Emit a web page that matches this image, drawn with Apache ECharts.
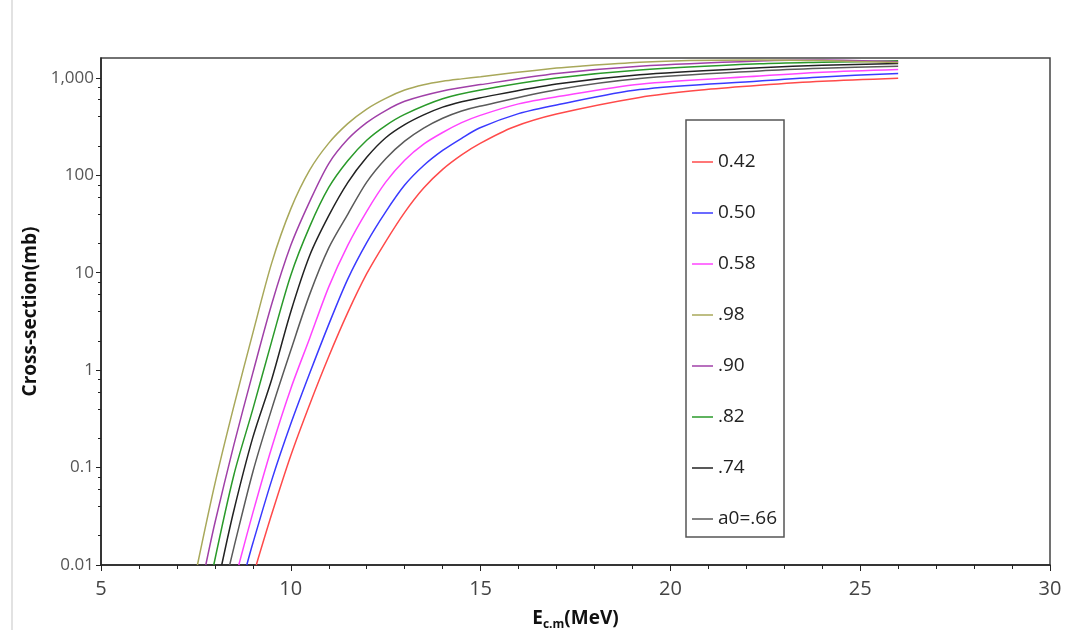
<!DOCTYPE html>
<html>
<head>
<meta charset="utf-8">
<script src="https://cdn.jsdelivr.net/npm/echarts@6/dist/echarts.min.js"></script>
<style>html,body{margin:0;padding:0;background:#fff}#c{width:1073px;height:630px}</style>
</head>
<body>
<div id="c"></div>
<script>
// Series names (legend order)
const seriesNames = ['0.42', '0.50', '0.58', '.98', '.90', '.82', '.74', 'a0=.66'];
const seriesColors = ['#ff4a4a', '#3a3aff', '#ff44ff', '#a8a85a', '#a040a8', '#2a9a2a', '#222222', '#5a5a5a'];

// [E (MeV), cross-section (mb)]
const s042 = [[9.09,0.01],[9.5,0.0335],[10,0.133],[10.5,0.447],[11,1.38],[11.5,3.89],[12,9.77],[12.5,20.9],[13,41.7],[13.5,74.1],[14,115],[14.5,162],[15,214],[15.84,310],[17,425],[19.19,630],[20.95,759],[22.35,840],[24,923],[26,991]];
const s050 = [[8.84,0.01],[9,0.0167],[9.5,0.0748],[10,0.281],[10.5,0.933],[11,2.95],[11.5,8.61],[12,20.4],[12.5,42.2],[13,79.4],[13.5,126],[14,180],[14.5,240],[14.97,306],[16,430],[17,528],[19.19,760],[22.35,930],[24,1024],[26,1107]];
const s058 = [[8.63,0.01],[9,0.0343],[9.5,0.162],[10,0.646],[10.5,2.14],[11,7.16],[11.5,19.1],[12,42.7],[12.5,85.1],[13,143],[13.5,209],[14,275],[14.5,347],[14.97,410],[16,541],[17,639],[19.19,860],[22.35,1045],[24,1141],[26,1217]];
const s098 = [[7.54,0.01],[8,0.068],[8.5,0.427],[9,2.4],[9.5,12.7],[10,45.2],[10.5,113.5],[11,214],[11.5,339],[12,479],[12.5,617],[13,750],[13.5,851],[14,923],[14.5,977],[15,1028],[15.85,1127],[17,1260],[17.62,1318],[19.19,1445],[20.5,1510],[22.35,1530],[24,1505],[26,1436]];
const s090 = [[7.76,0.01],[8,0.027],[8.5,0.171],[9,0.938],[9.5,4.81],[10,19.1],[10.5,54],[11,132],[11.5,234],[12,347],[12.5,462],[13,575],[14,733],[15,853],[17,1107],[19.19,1318],[22.35,1490],[24,1525],[26,1465]];
const s082 = [[7.97,0.01],[8.5,0.084],[9,0.398],[9.5,2.0],[10,9.44],[10.5,29.9],[11,75],[11.5,141],[12,229],[12.5,324],[13,422],[14,610],[15,750],[17,995],[19.19,1205],[22.35,1393],[24,1446],[26,1496]];
const s074 = [[8.18,0.01],[8.5,0.0363],[9,0.204],[9.5,0.813],[10,3.98],[10.5,15.1],[11,38.5],[11.5,84.1],[12,153],[12.5,243],[13,331],[13.5,417],[14,501],[14.5,569],[14.97,623],[17,865],[19.19,1080],[22.35,1267],[24,1349],[26,1402]];
const s066 = [[8.39,0.01],[8.5,0.0151],[9,0.0902],[9.5,0.403],[10,1.6],[10.5,6.03],[11,18],[11.5,39.8],[12,85.1],[12.5,148],[13,224],[13.5,305],[14,385],[14.5,457],[14.97,511],[17,757],[19.19,985],[22.35,1180],[24,1255],[26,1316]];
const seriesData = [s042, s050, s058, s098, s090, s082, s074, s066];

// Axis ticks
const xMin = 5, xMax = 30, xInterval = 5;
const yMin = 0.01, yMax = 1600;
const yMajorTicks = [0.01, 0.1, 1, 10, 100, 1000];
const yMinorTicks = [0.02,0.04,0.06,0.08,0.2,0.4,0.6,0.8,2,4,6,8,20,40,60,80,200,400,600,800];

const chart = echarts.init(document.getElementById('c'));
const axisCol = '#222';
const option = {
  animation: false,
  backgroundColor: '#fff',
  graphic: [{type:'line', shape:{x1:12,y1:0,x2:12,y2:630}, style:{stroke:'#e2e2e2', lineWidth:2}, silent:true}],
  grid: {left: 101, right: 23, top: 58, bottom: 65, show: true, borderColor: '#444', borderWidth: 1.5,
    containLabel: false, outerBoundsMode: 'none'},
  legend: {
    data: seriesNames,
    orient: 'vertical', left: 686, top: 120,
    padding: [32, 7, 8, 6],
    itemGap: 31, itemWidth: 21, itemHeight: 1.5, icon: 'rect',
    borderColor: '#555', borderWidth: 1.5,
    textStyle: {fontSize: 19, color: '#222', fontFamily: 'Open Sans', lineHeight: 20}
  },
  xAxis: {
    type: 'value', min: xMin, max: xMax, interval: xInterval,
    name: '{a|E}{b|c.m}{a|(MeV)}', nameLocation: 'middle', nameGap: 41,
    nameTextStyle: {rich: {
      a: {fontSize: 19, fontWeight: 'bold', color: '#111', fontFamily: 'Open Sans', verticalAlign: 'bottom', lineHeight: 22},
      b: {fontSize: 12, fontWeight: 'bold', color: '#111', fontFamily: 'Open Sans', verticalAlign: 'bottom', lineHeight: 13, padding: [0,0,-3,0]}
    }},
    axisLine: {lineStyle: {color: axisCol, width: 1.5}},
    axisTick: {length: 6, lineStyle: {color: axisCol}},
    minorTick: {show: true, splitNumber: 5, length: 4, lineStyle: {color: axisCol}},
    splitLine: {show: false},
    axisLabel: {fontSize: 20, color: '#444', margin: 14, fontFamily: 'Liberation Sans Narrow, Open Sans'}
  },
  yAxis: [{
    type: 'log', logBase: 10, min: yMin, max: yMax,
    name: 'Cross-section(mb)', nameLocation: 'middle', nameGap: 56,
    nameTextStyle: {fontSize: 19, fontWeight: 'bold', color: '#111', fontFamily: 'Open Sans'},
    axisLine: {lineStyle: {color: axisCol, width: 1.5}},
    axisTick: {length: 5, lineStyle: {color: axisCol}, customValues: yMajorTicks},
    splitLine: {show: false},
    axisLabel: {fontSize: 17, color: '#555', margin: 7, fontFamily: 'Open Sans', customValues: yMajorTicks,
      formatter: v => v >= 1000 ? '1,000' : String(v)}
  }, {
    type: 'log', logBase: 10, min: yMin, max: yMax, position: 'left',
    axisLine: {show: false},
    axisTick: {length: 3, lineStyle: {color: axisCol}, customValues: yMinorTicks},
    axisLabel: {show: false},
    splitLine: {show: false}
  }],
  series: seriesNames.map((n, i) => ({
    name: n, type: 'line', data: seriesData[i], yAxisIndex: 0,
    showSymbol: false, symbol: 'none', smooth: 0.3,
    lineStyle: {width: 1.5, color: seriesColors[i]}, itemStyle: {color: seriesColors[i]},
    z: 2 + (7 - i)
  }))
};
chart.setOption(option);
</script>
</body>
</html>
